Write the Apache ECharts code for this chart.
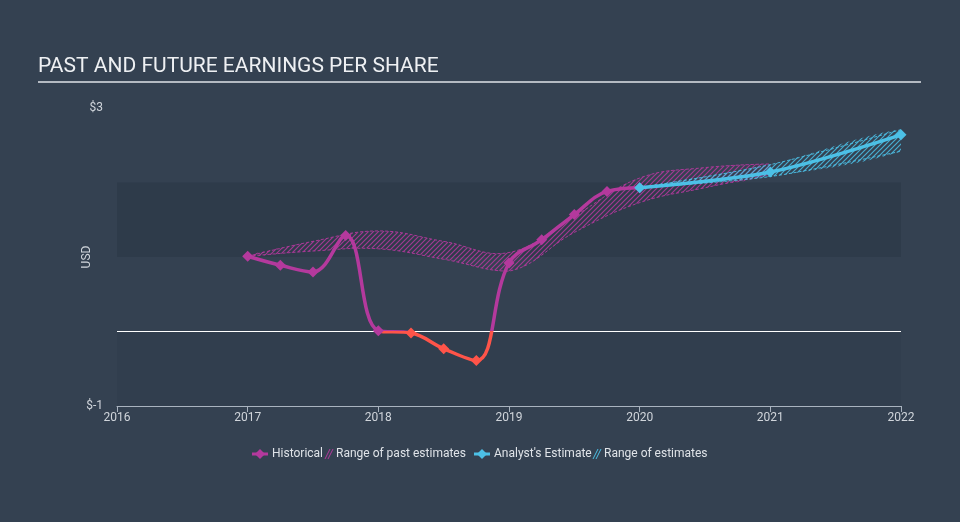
<!DOCTYPE html>
<html>
<head>
<meta charset="utf-8">
<script src="https://cdn.jsdelivr.net/npm/echarts@6/dist/echarts.min.js"></script>
<style>
html,body{margin:0;padding:0;background:#344151;}
#c{width:960px;height:522px;}
</style>
</head>
<body>
<div id="c"></div>
<script>
// ---- data ----
const yearTicks = [2016, 2017, 2018, 2019, 2020, 2021, 2022];
const histX = [2017, 2017.25, 2017.5, 2017.75, 2018, 2018.25, 2018.5, 2018.75, 2019, 2019.25, 2019.5, 2019.75, 2020];
const histY = [1.01, 0.89, 0.80, 1.29, 0.01, -0.02, -0.23, -0.39, 0.92, 1.23, 1.57, 1.88, 1.93];
const estX = [2020, 2021, 2022];
const estY = [1.93, 2.14, 2.64];
const pastRangeX = [2017, 2017.5, 2018, 2018.5, 2019, 2019.5, 2020, 2020.5, 2021];
const pastRangeLow = [1.01, 1.08, 1.11, 0.97, 0.81, 1.33, 1.73, 1.93, 2.11];
const pastRangeHigh = [1.01, 1.21, 1.35, 1.21, 1.06, 1.55, 2.06, 2.20, 2.25];
const futRangeX = [2020, 2021, 2022];
const futRangeLow = [1.93, 2.08, 2.42];
const futRangeHigh = [1.93, 2.24, 2.71];

const MAG = '#b4399d', RED = '#ff5449', CYAN = '#4cc0e6';

function hatch(color) {
  const c = document.createElement('canvas');
  c.width = 5; c.height = 5;
  const g = c.getContext('2d');
  g.strokeStyle = color; g.lineWidth = 1.2;
  g.beginPath();
  g.moveTo(-1, 6); g.lineTo(6, -1);
  g.moveTo(-1, 1); g.lineTo(1, -1);
  g.moveTo(4, 6); g.lineTo(6, 4);
  g.stroke();
  return { image: c, repeat: 'repeat' };
}

const zip = (xs, ys) => xs.map((x, i) => [x, ys[i]]);

function bandSeries(xs, lo, hi, color, fillColor, smooth) {
  return {
    type: 'custom', z: 2, silent: true,
    data: [[xs[0], lo[0]]],
    renderItem: function (params, api) {
      const up = xs.map((x, i) => api.coord([x, hi[i]]));
      const low = xs.map((x, i) => api.coord([x, lo[i]]));
      const rev = low.slice().reverse();
      const poly = up.slice();
      const same = (a, b) => Math.abs(a[0] - b[0]) < 0.01 && Math.abs(a[1] - b[1]) < 0.01;
      rev.forEach(p => {
        if (!same(p, poly[poly.length - 1]) && !same(p, poly[0])) poly.push(p);
      });
      const all = up.concat(low);
      const minX = Math.min(...all.map(p => p[0])), maxX = Math.max(...all.map(p => p[0]));
      const minY = Math.min(...all.map(p => p[1])), maxY = Math.max(...all.map(p => p[1]));
      const cons = [[minX, minY], [maxX, maxY]];
      const dash = { stroke: color, lineWidth: 1, lineDash: [3, 2], fill: null, opacity: 0.9 };
      return {
        type: 'group',
        children: [
          { type: 'polygon', shape: { points: poly, smooth: smooth, smoothConstraint: cons }, style: { fill: hatch(fillColor) } },
          { type: 'polyline', shape: { points: up, smooth: smooth, smoothConstraint: cons }, style: dash },
          { type: 'polyline', shape: { points: low, smooth: smooth, smoothConstraint: cons }, style: dash }
        ]
      };
    }
  };
}

const chart = echarts.init(document.getElementById('c'));
const font = 'Roboto, "Noto Sans", sans-serif';

function legendIcon(x, y, color) {
  return [
    { type: 'line', shape: { x1: x, y1: y, x2: x + 16, y2: y }, style: { stroke: color, lineWidth: 3 } },
    { type: 'polygon', shape: { points: [[x + 8, y - 5], [x + 13, y], [x + 8, y + 5], [x + 3, y]] }, style: { fill: color } }
  ];
}
function hatchIcon(x, y, color) {
  return [
    { type: 'line', shape: { x1: x, y1: y + 5, x2: x + 5, y2: y - 5 }, style: { stroke: color, lineWidth: 1 } },
    { type: 'line', shape: { x1: x + 3, y1: y + 5, x2: x + 8, y2: y - 5 }, style: { stroke: color, lineWidth: 1 } }
  ];
}
function legendText(x, y, t) {
  return { type: 'text', x: x, y: y, style: { text: t, fill: '#dfe3e8', font: '12px ' + font, textVerticalAlign: 'middle' } };
}
const LY = 454;

chart.setOption({
  backgroundColor: '#344151',
  animation: false,
  grid: { left: 117, right: 59, top: 108, bottom: 116 },
  xAxis: {
    type: 'value', min: 2016, max: 2022, interval: 1,
    axisLine: { onZero: false, lineStyle: { color: '#a9b3bf', width: 1 } },
    axisTick: { show: true, length: 6, lineStyle: { color: '#a9b3bf' } },
    axisLabel: { color: '#d0d5db', fontSize: 12, fontFamily: font, margin: 6,
      formatter: v => yearTicks.includes(v) ? String(v) : '' },
    splitLine: { show: false }
  },
  yAxis: {
    type: 'value', min: -1, max: 3, interval: 4,
    name: 'USD', nameLocation: 'middle', nameRotate: 90, nameGap: 24, nameMoveOverlap: false,
    nameTextStyle: { color: '#d0d5db', fontSize: 12, fontFamily: font },
    axisLine: { show: false }, axisTick: { show: false },
    axisLabel: { color: '#d0d5db', fontSize: 12, fontFamily: font, margin: 14, formatter: v => '$' + v },
    splitLine: { show: false }
  },
  visualMap: {
    show: false, type: 'piecewise', seriesIndex: 2, dimension: 1,
    pieces: [{ min: -5, max: 0, color: RED }, { min: 0, max: 5, color: MAG }]
  },
  graphic: [
    { type: 'text', left: 38, top: 56, style: { text: 'PAST AND FUTURE EARNINGS PER SHARE', fill: '#eef0f3', font: '21px ' + font } },
    { type: 'line', shape: { x1: 38, y1: 82, x2: 921, y2: 82 }, style: { stroke: '#b4bac2', lineWidth: 2 } },
    ...legendIcon(252, LY, MAG),
    legendText(272, LY, 'Historical'),
    ...hatchIcon(325, LY, MAG),
    legendText(336, LY, 'Range of past estimates'),
    ...legendIcon(474, LY, CYAN),
    legendText(494, LY, "Analyst's Estimate"),
    ...hatchIcon(593, LY, CYAN),
    legendText(604, LY, 'Range of estimates')
  ],
  series: [
    Object.assign(bandSeries(pastRangeX, pastRangeLow, pastRangeHigh, MAG, 'rgba(180,57,157,0.85)', 0.4), {
      markArea: {
        silent: true,
        data: [
          [{ yAxis: 1, itemStyle: { color: 'rgba(20,28,40,0.16)' } }, { yAxis: 2 }],
          [{ yAxis: -1, itemStyle: { color: 'rgba(20,28,40,0.07)' } }, { yAxis: 0 }]
        ]
      },
      markLine: {
        silent: true, symbol: 'none', label: { show: false },
        lineStyle: { color: '#ffffff', width: 1, type: 'solid', opacity: 1 },
        data: [{ yAxis: 0 }]
      }
    }),
    bandSeries(futRangeX, futRangeLow, futRangeHigh, CYAN, 'rgba(76,192,230,0.85)', 0.3),
    { // historical
      name: 'Historical', type: 'line', smooth: 0.4, z: 5,
      data: zip(histX, histY),
      symbol: 'diamond', symbolSize: 11,
      lineStyle: { width: 3.5 }
    },
    { // analyst estimate
      name: "Analyst's Estimate", type: 'line', smooth: 0.3, z: 6,
      data: zip(estX, estY),
      symbol: 'diamond', symbolSize: 11,
      itemStyle: { color: CYAN }, lineStyle: { color: CYAN, width: 3.5 }
    }
  ]
});
</script>
</body>
</html>
